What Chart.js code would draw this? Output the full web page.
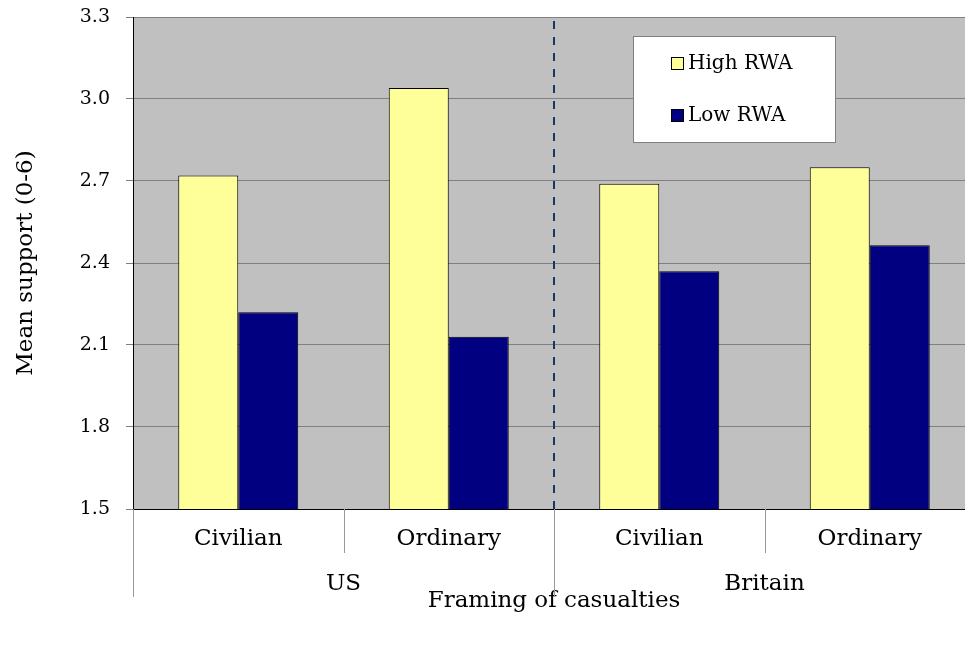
<!DOCTYPE html>
<html>
<head>
<meta charset="utf-8">
<script src="https://cdn.jsdelivr.net/npm/chart.js@4"></script>
<style>
html, body { margin: 0; padding: 0; overflow: hidden; background: #fff; }
#wrap { width: 980px; height: 647px; }
</style>
</head>
<body>
<div id="wrap"><canvas id="chart" width="980" height="647"></canvas></div>
<script>
// data
var categories = ['Civilian', 'Ordinary', 'Civilian', 'Ordinary'];
var groups = ['US', 'Britain'];
var highRWA = [2.72, 3.04, 2.69, 2.75];
var lowRWA = [2.22, 2.13, 2.37, 2.465];
var yTicks = [1.5, 1.8, 2.1, 2.4, 2.7, 3.0, 3.3];

var FONT = 'DejaVu Serif';

// background, dashed divider, legend box, two-level category separators
var decor = {
    id: 'decor',
    beforeDraw: function (chart) {
        var a = chart.chartArea, ctx = chart.ctx;
        ctx.save();
        ctx.fillStyle = '#C0C0C0';
        ctx.fillRect(a.left, a.top, a.right - a.left, a.bottom - a.top);
        ctx.restore();
    },
    afterDatasetsDraw: function (chart) {
        var a = chart.chartArea, ctx = chart.ctx, x = chart.scales.x;
        var mid = (x.getPixelForValue(1) + x.getPixelForValue(2)) / 2;
        ctx.save();
        ctx.strokeStyle = '#17375E';
        ctx.lineWidth = 2;
        ctx.setLineDash([8, 8]);
        ctx.beginPath();
        ctx.moveTo(mid, a.top + 4);
        ctx.lineTo(mid, a.bottom);
        ctx.stroke();
        ctx.setLineDash([]);

        // legend
        ctx.fillStyle = '#fff';
        ctx.fillRect(633, 36, 202, 106);
        ctx.strokeStyle = '#808080';
        ctx.lineWidth = 1;
        ctx.strokeRect(633.5, 36.5, 202, 106);
        var ys = [63, 115];
        chart.data.datasets.forEach(function (ds, i) {
            ctx.fillStyle = ds.backgroundColor;
            ctx.fillRect(671, ys[i] - 6, 13, 13);
            ctx.strokeStyle = '#000';
            ctx.strokeRect(671.5, ys[i] - 5.5, 12, 12);
            ctx.fillStyle = '#000';
            ctx.font = '20px "' + FONT + '"';
            ctx.textBaseline = 'middle';
            ctx.textAlign = 'left';
            ctx.fillText(ds.label, 688, ys[i] + 1);
        });
        ctx.restore();
    },
    afterDraw: function (chart) {
        var a = chart.chartArea, ctx = chart.ctx, x = chart.scales.x;
        var half = (x.getPixelForValue(1) - x.getPixelForValue(0)) / 2;
        var bounds = [];
        for (var i = 0; i <= categories.length; i++) {
            bounds.push(x.getPixelForValue(i) - half);
        }
        ctx.save();
        ctx.strokeStyle = '#999';
        ctx.lineWidth = 1;
        bounds.forEach(function (b, i) {
            var len = (i % 2 === 0) ? 88 : 44;
            var px = Math.round(b) + 0.5;
            ctx.beginPath();
            ctx.moveTo(px, a.bottom);
            ctx.lineTo(px, a.bottom + len);
            ctx.stroke();
        });
        ctx.fillStyle = '#000';
        ctx.font = '23px "' + FONT + '"';
        ctx.textAlign = 'center';
        ctx.textBaseline = 'middle';
        groups.forEach(function (g, k) {
            var cx = (bounds[2 * k] + bounds[2 * k + 2]) / 2;
            ctx.fillText(g, cx, a.bottom + 75);
        });
        ctx.restore();
    }
};

new Chart(document.getElementById('chart'), {
    type: 'bar',
    data: {
        labels: categories,
        datasets: [
            {
                label: 'High RWA',
                data: highRWA,
                backgroundColor: '#FFFF99',
                borderColor: '#000',
                borderWidth: 1,
                borderSkipped: false
            },
            {
                label: 'Low RWA',
                data: lowRWA,
                backgroundColor: '#000080',
                borderColor: '#000',
                borderWidth: 1,
                borderSkipped: false
            }
        ]
    },
    options: {
        responsive: false,
        animation: false,
        devicePixelRatio: 1,
        categoryPercentage: 0.57,
        barPercentage: 1.0,
        layout: { padding: { top: 17, right: 5, bottom: 32, left: 0 } },
        plugins: {
            legend: { display: false },
            tooltip: { enabled: false }
        },
        scales: {
            x: {
                offset: true,
                grid: { display: true, drawOnChartArea: false, drawTicks: false },
                border: { display: true, color: '#000', width: 1 },
                ticks: { color: '#000', padding: 16, font: { family: FONT, size: 23 } },
                title: {
                    display: true,
                    text: 'Framing of casualties',
                    color: '#000',
                    padding: 0,
                    font: { family: FONT, size: 23 }
                },
                afterFit: function (s) {
                    s.height = 106;
                    s.paddingLeft = 0;
                    s.paddingRight = 0;
                }
            },
            y: {
                min: 1.5,
                max: 3.3,
                afterBuildTicks: function (s) {
                    s.ticks = yTicks.map(function (v) { return { value: v }; });
                },
                grid: { color: '#808080', tickColor: '#808080', tickLength: 7 },
                border: { display: true, color: '#000', width: 1 },
                ticks: {
                    color: '#000',
                    padding: 16,
                    font: { family: FONT, size: 19 },
                    callback: function (v) { return Number(v).toFixed(1); }
                },
                title: {
                    display: true,
                    text: 'Mean support (0-6)',
                    color: '#000',
                    padding: 12,
                    font: { family: FONT, size: 23 }
                },
                afterFit: function (s) {
                    s.width = 133;
                    s.paddingTop = 0;
                    s.paddingBottom = 0;
                }
            }
        }
    },
    plugins: [decor]
});
</script>
</body>
</html>
